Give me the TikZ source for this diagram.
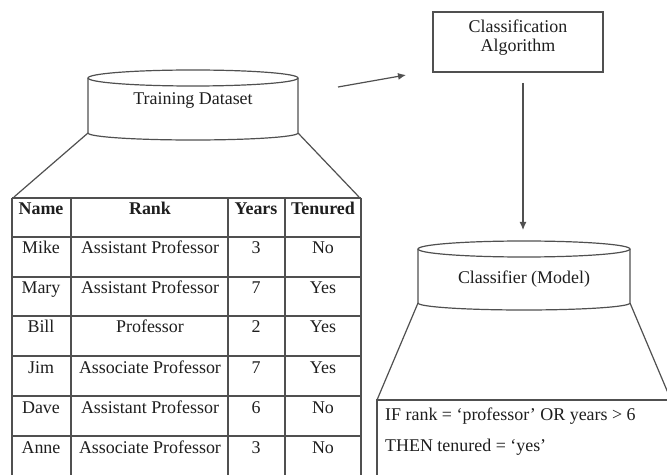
\documentclass[tikz,border=0pt]{standalone}
\usepackage{fontspec}
\setmainfont{Liberation Serif}
\usetikzlibrary{arrows.meta}
\definecolor{linec}{HTML}{505050}
\definecolor{textc}{HTML}{1E1E1E}
\begin{document}
\begin{tikzpicture}[x=1bp,y=1bp,
  ln/.style={draw=linec, line width=1.2bp},
  txt/.style={text=textc, font=\fontsize{18}{20}\selectfont, inner sep=0pt},
  hd/.style={txt, font=\fontsize{18}{20}\selectfont\bfseries},
  arr/.style={ln, -{Latex[length=8bp,width=7bp]}}]
\useasboundingbox (0,0) rectangle (667,-475);
\fill[white] (0,0) rectangle (667,-475);
\begin{scope}
\clip (0,0) rectangle (667,-475);
% ---------- training dataset cylinder ----------
\draw[ln] (88,-133) -- (14,-197);
\draw[ln] (298,-133) -- (359,-197);
\draw[ln, fill=white] (88,-78) -- (88,-133) arc[start angle=180, end angle=360, x radius=105, y radius=7] -- (298,-78);
\draw[ln, fill=white] (193,-78) ellipse [x radius=105, y radius=8];
\node[txt, anchor=base] (train) at (193,-105) {Training Dataset};
% ---------- table ----------
\foreach \y in {198,237,277,316,356,396,436} \draw[ln] (12,-\y) -- (361,-\y);
\foreach \x in {12,71,228,285,361} \draw[ln] (\x,-198) -- (\x,-480);
\node[hd, anchor=base] (h1) at (41,-215) {Name};
\node[hd, anchor=base] (h2) at (150,-215) {Rank};
\node[hd, anchor=base] (h3) at (256,-215) {Years};
\node[hd, anchor=base] (h4) at (323,-215) {Tenured};
\foreach \top/\n/\r/\yr/\t [count=\k] in {
  237/Mike/Assistant Professor/3/No,
  277/Mary/Assistant Professor/7/Yes,
  316/Bill/Professor/2/Yes,
  356/Jim/Associate Professor/7/Yes,
  396/Dave/Assistant Professor/6/No,
  436/Anne/Associate Professor/3/No}{
  \node[txt, anchor=base] (n\k) at (41,-\top-17) {\n};
  \node[txt, anchor=base] (r\k) at (150,-\top-17) {\r};
  \node[txt, anchor=base] (y\k) at (256,-\top-17) {\yr};
  \node[txt, anchor=base] (t\k) at (323,-\top-17) {\t};
}
% ---------- classification algorithm ----------
\node[ln, fill=white, minimum width=170bp, minimum height=60bp, inner sep=0pt] (algo) at (518,-42) {};
\node[txt, anchor=base] (algo1) at (518,-33) {Classification};
\node[txt, anchor=base] (algo2) at (518,-52) {Algorithm};
% ---------- arrows ----------
\coordinate (a1) at (338,-87);
\coordinate (a2) at (406,-75);
\draw[arr] (a1) -- (a2);
\coordinate (b1) at (523,-83);
\coordinate (b2) at (523,-230);
\draw[arr] (b1) -- (b2);
% ---------- classifier cylinder ----------
\draw[ln] (418,-303) -- (377,-400);
\draw[ln] (630,-303) -- (671,-400);
\draw[ln, fill=white] (418,-249) -- (418,-303) arc[start angle=180, end angle=360, x radius=106, y radius=7] -- (630,-249);
\draw[ln, fill=white] (524,-249) ellipse [x radius=106, y radius=8];
\node[txt, anchor=base] (clf) at (524,-284) {Classifier (Model)};
% ---------- rule box ----------
\draw[ln] (377,-485) -- (377,-400) -- (680,-400);
\node[txt, anchor=base west] (rule1) at (385,-420) {IF rank = `professor' OR years > 6};
\node[txt, anchor=base west] (rule2) at (385,-451) {THEN tenured = `yes'};
\end{scope}
\end{tikzpicture}
\end{document}
